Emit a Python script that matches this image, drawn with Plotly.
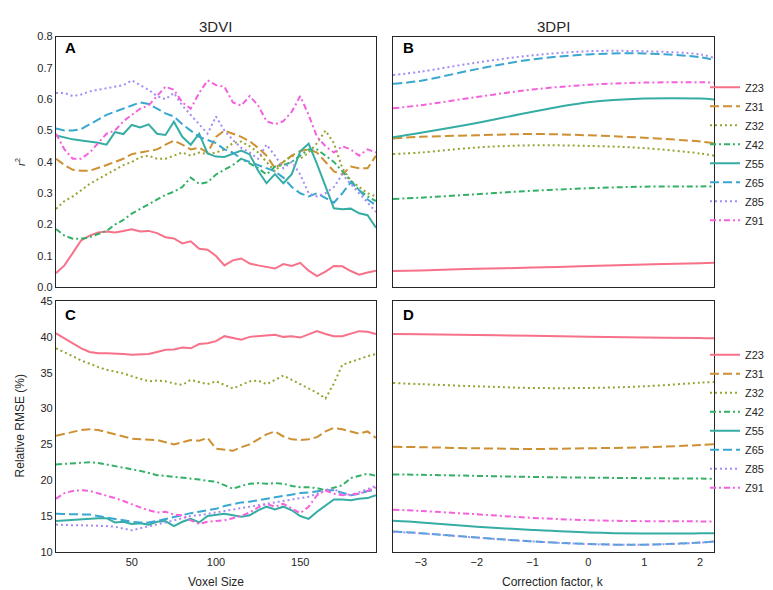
import plotly.graph_objects as go

# ---------------- data ----------------
names = ["Z23", "Z31", "Z32", "Z42", "Z55", "Z65", "Z85", "Z91"]
colors = ["#f77189", "#ce9032", "#97a431", "#32b166", "#36ada4", "#39a7d0", "#a48cf4", "#f561dd"]
dashes = ["solid", "9px,4px", "2px,3px", "6px,3px,2px,3px", "solid", "9px,4px", "2px,3px", "6px,3px,2px,3px"]

voxel = [5, 10, 15, 20, 25, 30, 35, 40, 45, 50, 55, 60, 65, 70, 75, 80, 85, 90, 95, 100,
         105, 110, 115, 120, 125, 130, 135, 140, 145, 150, 155, 160, 165, 170, 175, 180, 185, 190, 195]

# Panel A: r^2 vs voxel size (3DVI)
r2_vi = {
    "Z23": [0.045, 0.07, 0.11, 0.15, 0.165, 0.175, 0.178, 0.175, 0.18, 0.185, 0.178, 0.18, 0.173, 0.16, 0.156, 0.14, 0.147, 0.123, 0.12, 0.10,
            0.07, 0.086, 0.092, 0.076, 0.07, 0.065, 0.06, 0.074, 0.068, 0.078, 0.053, 0.036, 0.05, 0.068, 0.067, 0.052, 0.04, 0.047, 0.053],
    "Z31": [0.41, 0.39, 0.375, 0.372, 0.372, 0.38, 0.39, 0.40, 0.41, 0.425, 0.43, 0.433, 0.44, 0.455, 0.468, 0.455, 0.44, 0.445, 0.43, 0.48,
            0.50, 0.49, 0.48, 0.466, 0.445, 0.42, 0.38, 0.40, 0.42, 0.435, 0.44, 0.43, 0.40, 0.37, 0.36, 0.385, 0.38, 0.38, 0.42],
    "Z32": [0.25, 0.275, 0.29, 0.31, 0.33, 0.345, 0.36, 0.375, 0.39, 0.40, 0.415, 0.42, 0.41, 0.41, 0.42, 0.43, 0.42, 0.43, 0.425, 0.43,
            0.44, 0.46, 0.465, 0.45, 0.43, 0.40, 0.37, 0.40, 0.42, 0.41, 0.43, 0.46, 0.50, 0.46, 0.38, 0.34, 0.32, 0.30, 0.29],
    "Z42": [0.186, 0.165, 0.155, 0.155, 0.16, 0.17, 0.18, 0.20, 0.215, 0.235, 0.25, 0.265, 0.28, 0.295, 0.305, 0.32, 0.35, 0.33, 0.335, 0.36,
            0.375, 0.39, 0.41, 0.395, 0.38, 0.36, 0.385, 0.39, 0.40, 0.42, 0.44, 0.44, 0.42, 0.40, 0.37, 0.34, 0.31, 0.29, 0.275],
    "Z55": [0.484, 0.477, 0.472, 0.468, 0.465, 0.461, 0.455, 0.495, 0.489, 0.518, 0.51, 0.52, 0.49, 0.486, 0.528, 0.48, 0.455, 0.49, 0.427, 0.417,
            0.416, 0.425, 0.436, 0.424, 0.372, 0.332, 0.361, 0.332, 0.361, 0.434, 0.458, 0.393, 0.32, 0.252, 0.249, 0.251, 0.236, 0.23, 0.19],
    "Z65": [0.507, 0.50, 0.50, 0.505, 0.52, 0.535, 0.55, 0.56, 0.57, 0.58, 0.59, 0.585, 0.57, 0.555, 0.545, 0.52, 0.50, 0.48, 0.47, 0.46,
            0.44, 0.43, 0.41, 0.40, 0.39, 0.38, 0.37, 0.35, 0.32, 0.30, 0.29, 0.30, 0.285, 0.27, 0.30, 0.335, 0.31, 0.28, 0.262],
    "Z85": [0.62, 0.62, 0.61, 0.615, 0.625, 0.63, 0.635, 0.64, 0.645, 0.66, 0.645, 0.63, 0.61, 0.60, 0.62, 0.58, 0.55, 0.52, 0.49, 0.545,
            0.50, 0.47, 0.445, 0.43, 0.41, 0.455, 0.42, 0.38, 0.40, 0.36, 0.30, 0.29, 0.30, 0.32, 0.36, 0.33, 0.30, 0.27, 0.24],
    "Z91": [0.49, 0.44, 0.41, 0.41, 0.43, 0.46, 0.49, 0.50, 0.53, 0.55, 0.57, 0.58, 0.61, 0.64, 0.63, 0.59, 0.57, 0.62, 0.66, 0.645,
            0.64, 0.59, 0.58, 0.61, 0.58, 0.53, 0.52, 0.53, 0.56, 0.61, 0.55, 0.48, 0.45, 0.43, 0.45, 0.44, 0.42, 0.44, 0.43],
}

# Panel C: relative RMSE vs voxel size (3DVI)
rmse_vi = {
    "Z23": [40.5, 39.8, 39.0, 38.4, 37.9, 37.7, 37.7, 37.7, 37.6, 37.5, 37.6, 37.6, 37.9, 38.2, 38.25, 38.5, 38.4, 39.0, 39.1, 39.4,
            40.1, 39.8, 39.6, 40.0, 40.1, 40.2, 40.3, 40.0, 40.1, 39.9, 40.4, 40.8, 40.4, 40.1, 40.1, 40.5, 40.8, 40.7, 40.4],
    "Z31": [26.2, 26.5, 26.8, 27.0, 27.1, 27.0, 26.7, 26.4, 26.0, 25.8, 25.7, 25.7, 25.6, 25.3, 25.0, 25.3, 25.6, 25.5, 25.9, 24.4,
            24.2, 24.1, 24.6, 25.0, 25.7, 26.4, 26.8, 26.1, 25.7, 25.6, 25.7, 26.0, 26.8, 27.3, 27.1, 26.8, 26.5, 26.8, 25.9],
    "Z32": [38.4, 37.9, 37.3, 36.7, 36.2, 35.8, 35.4, 35.2, 34.9, 34.5, 34.2, 33.8, 33.9, 33.8, 33.5, 33.3, 34.0, 33.7, 33.4, 33.8,
            33.3, 32.8, 33.3, 33.8, 33.9, 33.4, 34.0, 34.6, 34.0, 33.4, 32.8, 32.2, 31.4, 33.5, 36.1, 36.5, 37.0, 37.3, 37.6],
    "Z42": [22.2, 22.3, 22.4, 22.5, 22.5, 22.4, 22.2, 22.0, 21.8, 21.5, 21.3, 21.0, 20.7, 20.6, 20.5, 20.3, 20.2, 20.1, 19.9, 19.8,
            19.3, 18.8, 19.2, 19.5, 19.6, 19.5, 19.6, 19.5, 19.2, 19.0, 19.0, 18.9, 18.6, 18.9, 19.3, 20.3, 20.6, 20.9, 20.6],
    "Z55": [14.3, 14.4, 14.5, 14.6, 14.6, 14.7, 14.7, 14.1, 14.2, 13.9, 14.0, 13.8, 14.2, 14.3, 13.6, 14.2, 14.6, 14.1, 15.0, 15.1,
            15.3, 15.1, 14.9, 15.1, 15.8, 16.3, 15.9, 16.3, 15.8, 15.0, 14.6, 15.6, 16.5, 17.3, 17.3, 17.2, 17.4, 17.5, 17.9],
    "Z65": [15.3, 15.3, 15.3, 15.3, 15.2, 15.0, 14.8, 14.6, 14.3, 14.2, 14.1, 14.1, 14.3, 14.6, 14.9, 15.1, 15.4, 15.6, 15.8, 16.0,
            16.4, 16.7, 16.9, 17.0, 17.2, 17.4, 17.7, 17.9, 18.1, 18.2, 18.3, 18.5, 18.6, 18.6, 18.3, 17.9, 18.1, 18.5, 18.6],
    "Z85": [13.8, 13.7, 13.7, 13.7, 13.7, 13.6, 13.6, 13.5, 13.3, 13.0, 13.3, 13.5, 13.8, 14.1, 14.4, 14.8, 15.0, 15.1, 15.3, 15.4,
            15.6, 15.8, 16.0, 16.3, 16.5, 16.7, 16.9, 17.0, 17.2, 17.4, 17.7, 18.1, 18.6, 18.8, 18.0, 17.9, 18.3, 18.8, 19.2],
    "Z91": [17.4, 18.2, 18.5, 18.6, 18.5, 18.2, 17.9, 17.5, 17.1, 16.6, 16.2, 15.8, 15.5, 15.6, 15.2, 15.1, 14.4, 13.9, 14.2, 14.3,
            14.4, 14.7, 15.0, 15.5, 16.2, 16.7, 16.3, 16.7, 16.0, 15.4, 16.3, 17.9, 18.6, 18.1, 17.9, 18.0, 18.1, 18.5, 19.0],
}

kfac = [-3.5, -3.0, -2.0, -1.0, 0.0, 1.0, 2.0, 2.25]

# Panel B: r^2 vs correction factor (3DPI)
r2_pi = {
    "Z23": [0.052, 0.054, 0.059, 0.063, 0.068, 0.073, 0.077, 0.078],
    "Z31": [0.475, 0.48, 0.485, 0.489, 0.485, 0.477, 0.465, 0.459],
    "Z32": [0.425, 0.43, 0.446, 0.453, 0.451, 0.444, 0.427, 0.42],
    "Z42": [0.282, 0.286, 0.297, 0.308, 0.316, 0.321, 0.322, 0.322],
    "Z55": [0.479, 0.493, 0.524, 0.56, 0.59, 0.602, 0.602, 0.599],
    "Z65": [0.649, 0.659, 0.696, 0.727, 0.743, 0.746, 0.734, 0.725],
    "Z85": [0.677, 0.688, 0.717, 0.74, 0.753, 0.753, 0.743, 0.732],
    "Z91": [0.571, 0.581, 0.607, 0.631, 0.646, 0.653, 0.654, 0.653],
}

# Panel D: relative RMSE vs correction factor (3DPI)
rmse_pi = {
    "Z23": [40.4, 40.35, 40.25, 40.15, 40.0, 39.9, 39.85, 39.8],
    "Z31": [24.67, 24.6, 24.45, 24.36, 24.45, 24.59, 24.9, 25.0],
    "Z32": [33.56, 33.4, 33.1, 32.87, 32.87, 33.1, 33.6, 33.7],
    "Z42": [20.8, 20.75, 20.6, 20.45, 20.35, 20.28, 20.22, 20.21],
    "Z55": [14.33, 14.1, 13.51, 13.05, 12.69, 12.55, 12.58, 12.6],
    "Z65": [12.83, 12.6, 12.0, 11.46, 11.09, 11.0, 11.3, 11.46],
    "Z85": [12.8, 12.58, 11.98, 11.45, 11.08, 10.99, 11.28, 11.44],
    "Z91": [15.88, 15.7, 15.24, 14.74, 14.42, 14.28, 14.25, 14.24],
}

# ---------------- figure ----------------
W, H = 773, 590
FONT = "Liberation Sans, Arial, sans-serif"
INK = "#262626"

fig = go.Figure()

def add(xs, ys, i, xa, ya, legend=None):
    fig.add_trace(go.Scatter(
        x=xs, y=ys, mode="lines", name=names[i],
        line=dict(color=colors[i], width=2, dash=dashes[i],
                  shape="spline" if legend else "linear"),
        xaxis=xa, yaxis=ya,
        showlegend=legend is not None,
        legend=legend if legend else "legend",
    ))

for i, n in enumerate(names):
    add(voxel, r2_vi[n], i, "x", "y")
for i, n in enumerate(names):
    add(kfac, r2_pi[n], i, "x2", "y2", legend="legend")
for i, n in enumerate(names):
    add(voxel, rmse_vi[n], i, "x3", "y3")
for i, n in enumerate(names):
    add(kfac, rmse_pi[n], i, "x4", "y4", legend="legend2")

def px_x(a, b):
    return [a / W, b / W]

def px_y(top, bottom):
    return [1 - bottom / H, 1 - top / H]

dxl = px_x(48, 368)
dxr = px_x(385, 706)
dyt = px_y(23, 279)
dyb = px_y(293, 549)

axis_common = dict(showline=True, mirror=True, linecolor=INK, linewidth=1.3,
                   showgrid=False, zeroline=False, ticks="", ticklen=0,
                   tickfont=dict(family=FONT, size=11, color=INK))

legend_common = dict(xanchor="left", yanchor="top",
                     font=dict(family=FONT, size=11, color=INK), bgcolor="rgba(0,0,0,0)",
                     tracegroupgap=0, itemwidth=30)

fig.update_layout(
    width=W, height=H,
    margin=dict(l=0, r=0, t=0, b=0),
    paper_bgcolor="white", plot_bgcolor="white",
    font=dict(family=FONT, color=INK),
    xaxis=dict(domain=dxl, range=[5, 195], anchor="y", showticklabels=False, **axis_common),
    yaxis=dict(domain=dyt, range=[0, 0.8], dtick=0.1, tickformat=".1f", anchor="x", **axis_common),
    xaxis2=dict(domain=dxr, range=[-3.5, 2.25], anchor="y2", showticklabels=False, **axis_common),
    yaxis2=dict(domain=dyt, range=[0, 0.8], anchor="x2", showticklabels=False, **axis_common),
    xaxis3=dict(domain=dxl, range=[5, 195], tickvals=[50, 100, 150], anchor="y3", **axis_common),
    yaxis3=dict(domain=dyb, range=[10, 45], dtick=5, anchor="x3", **axis_common),
    xaxis4=dict(domain=dxr, range=[-3.5, 2.25], tickvals=[-3, -2, -1, 0, 1, 2], anchor="y4", **axis_common),
    yaxis4=dict(domain=dyb, range=[10, 45], anchor="x4", showticklabels=False, **axis_common),
    legend=dict(x=697 / W, y=1 - 60 / H, **legend_common),
    legend2=dict(x=697 / W, y=1 - 333 / H, **legend_common),
)

ann = [
    dict(text="3DVI", x=208 / W, y=1 - 13 / H, size=15),
    dict(text="3DPI", x=545 / W, y=1 - 13 / H, size=15),
    dict(text="<b>A</b>", x=62 / W, y=1 - 34 / H, size=15),
    dict(text="<b>B</b>", x=400 / W, y=1 - 34 / H, size=15),
    dict(text="<b>C</b>", x=62 / W, y=1 - 307 / H, size=15),
    dict(text="<b>D</b>", x=400 / W, y=1 - 307 / H, size=15),
    dict(text="Voxel Size", x=208 / W, y=1 - 580 / H, size=12),
    dict(text="Correction factor, k", x=545 / W, y=1 - 580 / H, size=12),
]
for a in ann:
    fig.add_annotation(text=a["text"], x=a["x"], y=a["y"], xref="paper", yref="paper",
                       showarrow=False, xanchor="center", yanchor="middle",
                       font=dict(family=FONT, size=a["size"], color=INK if "<b>" not in a["text"] else "black"))

fig.add_annotation(text="<i>r</i><sup>2</sup>", x=12 / W, y=1 - 151 / H, xref="paper", yref="paper",
                   showarrow=False, textangle=-90, xanchor="center", yanchor="middle",
                   font=dict(family=FONT, size=11, color=INK))
fig.add_annotation(text="Relative RMSE (%)", x=12 / W, y=1 - 421 / H, xref="paper", yref="paper",
                   showarrow=False, textangle=-90, xanchor="center", yanchor="middle",
                   font=dict(family=FONT, size=12, color=INK))

fig.write_html("out.html")
